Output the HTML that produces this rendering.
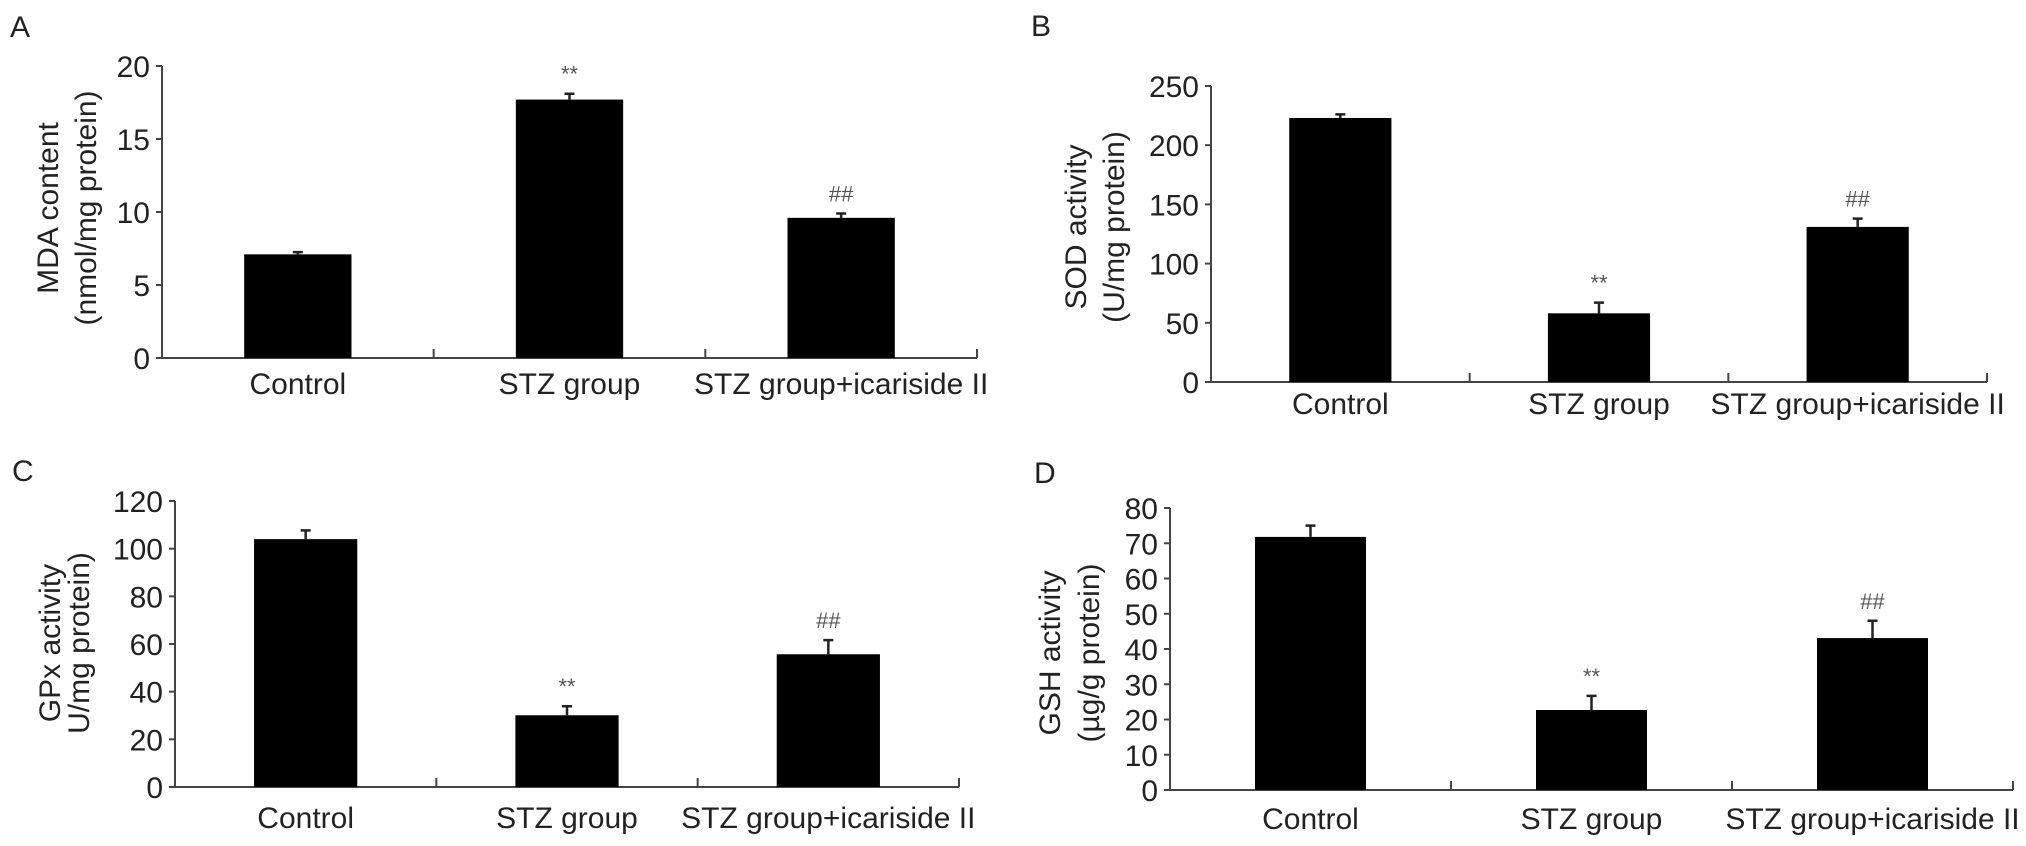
<!DOCTYPE html>
<html><head><meta charset="utf-8"><style>
html,body{margin:0;padding:0;background:#fff;}
svg{display:block;font-family:"Liberation Sans",Arial,sans-serif;}
</style></head><body>
<svg id="fig" width="2026" height="846" viewBox="0 0 2026 846"></svg>
<script>
const categories = ["Control", "STZ group", "STZ group+icariside II"];
const mdaValues = [7.1, 17.7, 9.6];
const mdaErrors = [0.15, 0.4, 0.3];
const mdaTicks = [0, 5, 10, 15, 20];
const sodValues = [223, 58, 131];
const sodErrors = [3, 9, 7];
const sodTicks = [0, 50, 100, 150, 200, 250];
const gpxValues = [104, 30.1, 55.7];
const gpxErrors = [3.7, 3.8, 5.9];
const gpxTicks = [0, 20, 40, 60, 80, 100, 120];
const gshValues = [71.8, 22.7, 43.1];
const gshErrors = [3.2, 4, 4.9];
const gshTicks = [0, 10, 20, 30, 40, 50, 60, 70, 80];
const markers = ["", "**", "##"];

const NS = "http://www.w3.org/2000/svg";
const svg = document.getElementById("fig");
function mk(tag, attrs, parent, text) {
  const e = document.createElementNS(NS, tag);
  for (const k in attrs) e.setAttribute(k, attrs[k]);
  if (text !== undefined) e.textContent = text;
  (parent || svg).appendChild(e);
  return e;
}

function panel(cfg, values, errors, ticks) {
  const g = mk("g", {});
  
  
  const max = ticks[ticks.length - 1];
  const y = v => cfg.y0 - (v / max) * (cfg.y0 - cfg.yTop);
  const gw = (cfg.xEnd - cfg.x0) / categories.length;
  const xc = i => cfg.x0 + gw * (i + 0.5);
  const lab = mk("text", {x: cfg.lx, y: cfg.ly, "font-size": 30, fill: "#222"}, g, cfg.letter);
  
  
  // axes
  const ya = mk("line", {x1: cfg.x0, y1: cfg.yTop, x2: cfg.x0, y2: cfg.y0, stroke: "#444", "stroke-width": 2}, g);
  
  
  const xa = mk("line", {x1: cfg.x0 - 1, y1: cfg.y0, x2: cfg.xEnd, y2: cfg.y0, stroke: "#444", "stroke-width": 2}, g);
  
  
  ticks.forEach(t => {
    const ty = y(t);
    mk("line", {x1: cfg.x0 - 6, y1: ty, x2: cfg.x0, y2: ty, stroke: "#444", "stroke-width": 2}, g);
    const tl = mk("text", {x: cfg.x0 - 12, y: ty + 11, "font-size": 30, fill: "#222", "text-anchor": "end"}, g, t);
    
    
  });
  for (let i = 1; i <= categories.length; i++) {
    const tx = cfg.x0 + gw * i;
    mk("line", {x1: tx, y1: cfg.y0, x2: tx, y2: cfg.y0 - 9, stroke: "#444", "stroke-width": 2}, g);
  }
  // title
  const tt = mk("text", {transform: `translate(${cfg.tx1},${cfg.ty}) rotate(-90)`, "font-size": 30, fill: "#222", "text-anchor": "middle"}, g, cfg.t1);
  
  
  const tt2 = mk("text", {transform: `translate(${cfg.tx2},${cfg.ty}) rotate(-90)`, "font-size": 30, fill: "#222", "text-anchor": "middle"}, g, cfg.t2);
  
  
  const bw = gw * 0.395;
  values.forEach((v, i) => {
    const cx = xc(i);
    const top = y(v), et = y(v + errors[i]);
    const bar = mk("rect", {x: cx - bw / 2, y: top, width: bw, height: cfg.y0 - top, fill: "#000"}, g);
    
    
    const eb = mk("path", {d: `M${cx} ${top} V${et} M${cx - 5} ${et} H${cx + 5}`, stroke: "#222", "stroke-width": 2.5, fill: "none"}, g);
    
    
    if (markers[i]) {
      const m = mk("text", {x: cx, y: et - 12, "font-size": 22, fill: "#555", "text-anchor": "middle"}, g, markers[i]);
      
      
    }
    const xl = mk("text", {x: cx, y: cfg.xly, "font-size": 30, fill: "#222", "text-anchor": "middle"}, g, categories[i]);
    
    
  });
}

panel({name: "panel-a-mda", letter: "A", lx: 10, ly: 37, x0: 162, xEnd: 977, y0: 358, yTop: 66, xly: 394,
  t1: "MDA content", t2: "(nmol/mg protein)", tx1: 58, tx2: 96, ty: 208}, mdaValues, mdaErrors, mdaTicks);
panel({name: "panel-b-sod", letter: "B", lx: 1031, ly: 36, x0: 1211, xEnd: 1987, y0: 382, yTop: 86, xly: 414,
  t1: "SOD activity", t2: "(U/mg protein)", tx1: 1086, tx2: 1124, ty: 227}, sodValues, sodErrors, sodTicks);
panel({name: "panel-c-gpx", letter: "C", lx: 12, ly: 481, x0: 175, xEnd: 959, y0: 787, yTop: 501, xly: 828,
  t1: "GPx activity", t2: "U/mg protein)", tx1: 60, tx2: 89, ty: 643}, gpxValues, gpxErrors, gpxTicks);
panel({name: "panel-d-gsh", letter: "D", lx: 1034, ly: 483, x0: 1170, xEnd: 2013, y0: 790, yTop: 508, xly: 829,
  t1: "GSH activity", t2: "(\u00b5g/g protein)", tx1: 1060, tx2: 1099, ty: 653}, gshValues, gshErrors, gshTicks);
</script>
</body></html>
